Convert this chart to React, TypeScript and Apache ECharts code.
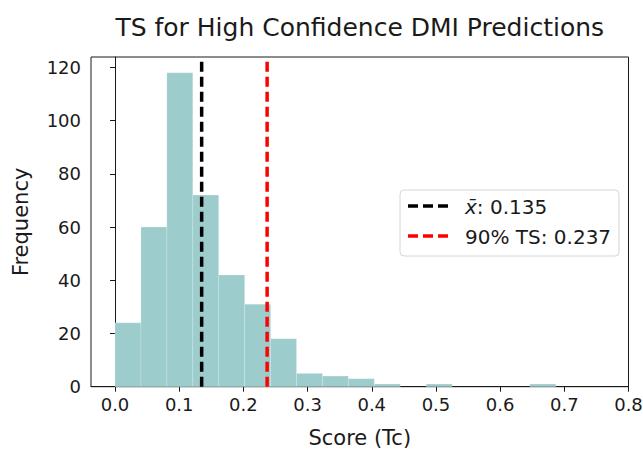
import React, { useEffect, useRef } from "react";
import * as echarts from "echarts";

// Histogram of TS scores (bin edges and per-bin counts)
const binEdges = [
  0, 0.0404, 0.0808, 0.1212, 0.1616, 0.202, 0.2424, 0.2828, 0.3232, 0.3636,
  0.404, 0.4444, 0.4848, 0.5252, 0.5656, 0.606, 0.6464, 0.6868,
];
const binCounts = [24, 60, 118, 72, 42, 31, 18, 5, 4, 3, 1, 0, 1, 0, 0, 0, 1];

// Reference lines
const meanScore = 0.135;
const ts90Score = 0.237;

// Axis ticks
const xTicks = [0, 0.1, 0.2, 0.3, 0.4, 0.5, 0.6, 0.7, 0.8];
const yTicks = [0, 20, 40, 60, 80, 100, 120];

const FONT = "DejaVu Sans";
const INK = "#1a1a1a";
const BAR = "#9dcccd";

export default function App() {
  const ref = useRef<HTMLDivElement>(null);

  useEffect(() => {
    if (!ref.current) return;
    const chart = echarts.init(ref.current, undefined, { renderer: "svg" });

    const yMax = Math.max(...binCounts) * 1.05;
    const histData = binCounts
      .map((c, i) => [binEdges[i], binEdges[i + 1], c])
      .filter((d) => d[2] > 0);

    const gridLeft = 91;
    const gridRight = 628.5;
    const gridTop = 57;
    const gridBottom = 386.7;
    const plotCenterX = (gridLeft + gridRight) / 2;

    chart.setOption({
      animation: false,
      textStyle: { fontFamily: FONT },
      grid: {
        left: gridLeft,
        right: 643 - gridRight,
        top: gridTop,
        bottom: 453 - gridBottom,
        containLabel: false,
        outerBoundsMode: "none",
        show: true,
        borderColor: INK,
        borderWidth: 1,
        backgroundColor: "transparent",
      },
      xAxis: {
        type: "value",
        min: -0.0374,
        max: 0.8,
        name: "Score (Tc)",
        nameLocation: "middle",
        nameGap: 41,
        nameTextStyle: { fontFamily: FONT, fontSize: 21, color: INK },
        axisLine: { show: true, onZero: false, lineStyle: { color: INK, width: 1 } },
        axisTick: {
          show: true,
          length: 5,
          customValues: xTicks,
          lineStyle: { color: INK, width: 1 },
        },
        axisLabel: {
          customValues: xTicks,
          margin: 9,
          fontFamily: FONT,
          fontSize: 18,
          color: INK,
          formatter: (v: number) => v.toFixed(1),
        },
        splitLine: { show: false },
      },
      yAxis: {
        type: "value",
        min: 0,
        max: yMax,
        name: "Frequency",
        nameLocation: "middle",
        nameGap: 60,
        nameTextStyle: { fontFamily: FONT, fontSize: 21, color: INK },
        axisLine: { show: true, lineStyle: { color: INK, width: 1 } },
        axisTick: {
          show: true,
          length: 5,
          customValues: yTicks,
          lineStyle: { color: INK, width: 1 },
        },
        axisLabel: {
          customValues: yTicks,
          margin: 10,
          fontFamily: FONT,
          fontSize: 18,
          color: INK,
        },
        splitLine: { show: false },
      },
      series: [
        {
          type: "custom",
          name: "Histogram",
          data: histData,
          encode: { x: [0, 1], y: 2 },
          z: 1,
          renderItem: (params: any, api: any) => {
            const x0 = api.value(0);
            const x1 = api.value(1);
            const c = api.value(2);
            const p0 = api.coord([x0, c]);
            const p1 = api.coord([x1, 0]);
            return {
              type: "rect",
              shape: {
                x: p0[0],
                y: p0[1],
                width: p1[0] - p0[0],
                height: p1[1] - p0[1],
              },
              style: { fill: BAR, stroke: "rgba(255,255,255,0.3)", lineWidth: 0.6 },
            };
          },
        },
        {
          type: "line",
          name: "mean",
          data: [
            [meanScore, 0],
            [meanScore, yMax],
          ],
          symbol: "none",
          z: 5,
          lineStyle: { color: "#000000", width: 3.5, type: [10, 5] },
        },
        {
          type: "line",
          name: "ts90",
          data: [
            [ts90Score, 0],
            [ts90Score, yMax],
          ],
          symbol: "none",
          z: 5,
          lineStyle: { color: "#ff0000", width: 3.5, type: [10, 5] },
        },
      ],
      graphic: [
        {
          type: "text",
          x: plotCenterX,
          y: 27,
          style: {
            text: "TS for High Confidence DMI Predictions",
            fontFamily: FONT,
            fontSize: 25,
            fill: INK,
            textAlign: "center",
            textVerticalAlign: "middle",
          },
        },
        {
          type: "group",
          x: 400,
          y: 190,
          z: 10,
          children: [
            {
              type: "rect",
              shape: { x: 0, y: 0, width: 219, height: 66, r: 4 },
              style: { fill: "rgba(255,255,255,0.8)", stroke: "#d6d6d6", lineWidth: 1 },
            },
            {
              type: "line",
              shape: { x1: 8, y1: 16, x2: 48, y2: 16 },
              style: { stroke: "#000000", lineWidth: 3.5, lineDash: [10, 5] },
            },
            {
              type: "text",
              x: 65,
              y: 17,
              style: {
                text: "{i|x\u0304}: " + meanScore.toFixed(3),
                fontFamily: FONT,
                fontSize: 20,
                fill: INK,
                textVerticalAlign: "middle",
                rich: {
                  i: { fontFamily: FONT, fontSize: 20, fontStyle: "italic", fill: INK },
                },
              },
            },
            {
              type: "line",
              shape: { x1: 8, y1: 46, x2: 48, y2: 46 },
              style: { stroke: "#ff0000", lineWidth: 3.5, lineDash: [10, 5] },
            },
            {
              type: "text",
              x: 65,
              y: 47,
              style: {
                text: "90% TS: " + ts90Score.toFixed(3),
                fontFamily: FONT,
                fontSize: 20,
                fill: INK,
                textVerticalAlign: "middle",
              },
            },
          ],
        },
      ],
    });

    return () => chart.dispose();
  }, []);

  return (
    <div
      ref={ref}
      style={{ position: "fixed", left: 0, top: 0, width: 643, height: 453, background: "#fff" }}
    />
  );
}
